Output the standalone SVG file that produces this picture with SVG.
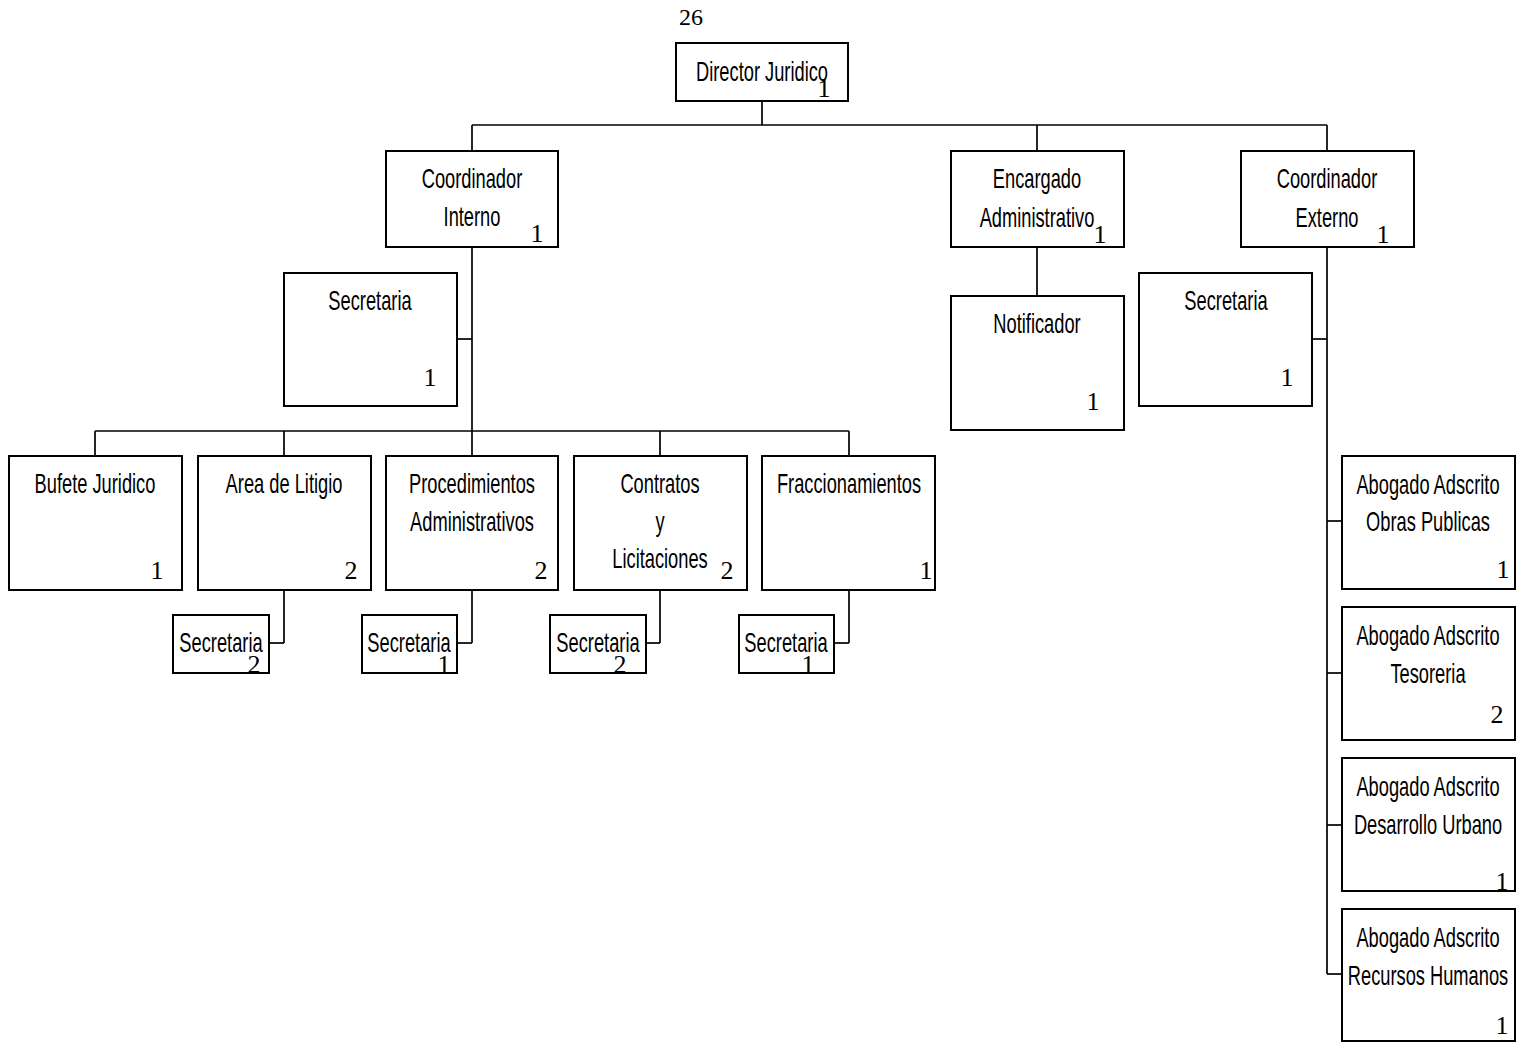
<svg xmlns="http://www.w3.org/2000/svg" width="1525" height="1042" viewBox="0 0 1525 1042">
<style>
rect{fill:#fff;stroke:#000;stroke-width:2}
.c line{stroke:#000;stroke-width:1.7}
.t{font-family:"Liberation Sans",Arial,sans-serif;font-size:28px;text-anchor:middle;fill:#000}
.n{font-family:"Liberation Serif","Times New Roman",serif;font-size:26px;text-anchor:middle;fill:#000}
</style>
<rect x="0" y="0" width="1525" height="1042" style="stroke:none"/>
<text class="n" x="691" y="25" style="font-size:24px">26</text>
<g class="c" id="connectors">
<line x1="762" y1="101" x2="762" y2="125"/>
<line x1="472" y1="125" x2="1327" y2="125"/>
<line x1="472" y1="125" x2="472" y2="151"/>
<line x1="1037" y1="125" x2="1037" y2="151"/>
<line x1="1327" y1="125" x2="1327" y2="151"/>
<line x1="472" y1="247" x2="472" y2="431"/>
<line x1="457" y1="339" x2="472" y2="339"/>
<line x1="95" y1="431" x2="849" y2="431"/>
<line x1="95" y1="431" x2="95" y2="456"/>
<line x1="284" y1="431" x2="284" y2="456"/>
<line x1="472" y1="431" x2="472" y2="456"/>
<line x1="660" y1="431" x2="660" y2="456"/>
<line x1="849" y1="431" x2="849" y2="456"/>
<line x1="284" y1="590" x2="284" y2="643"/>
<line x1="269" y1="643" x2="284" y2="643"/>
<line x1="472" y1="590" x2="472" y2="643"/>
<line x1="457" y1="643" x2="472" y2="643"/>
<line x1="660" y1="590" x2="660" y2="643"/>
<line x1="646" y1="643" x2="660" y2="643"/>
<line x1="849" y1="590" x2="849" y2="643"/>
<line x1="834" y1="643" x2="849" y2="643"/>
<line x1="1037" y1="247" x2="1037" y2="296"/>
<line x1="1327" y1="247" x2="1327" y2="974"/>
<line x1="1312" y1="339" x2="1327" y2="339"/>
<line x1="1327" y1="521" x2="1342" y2="521"/>
<line x1="1327" y1="673" x2="1342" y2="673"/>
<line x1="1327" y1="825" x2="1342" y2="825"/>
<line x1="1327" y1="974" x2="1342" y2="974"/>
</g>
<g id="director"><rect x="676" y="43" width="172" height="58"/>
<text class="t" transform="translate(762,81) scale(0.653,1)">Director Juridico</text>
<text class="n" x="824" y="97">1</text></g>
<g id="coord-interno"><rect x="386" y="151" width="172" height="96"/>
<text class="t" transform="translate(472,188) scale(0.653,1)">Coordinador</text>
<text class="t" transform="translate(472,226) scale(0.653,1)">Interno</text>
<text class="n" x="537" y="242">1</text></g>
<g id="encargado"><rect x="951" y="151" width="173" height="96"/>
<text class="t" transform="translate(1037,188) scale(0.653,1)">Encargado</text>
<text class="t" transform="translate(1037,227) scale(0.653,1)">Administrativo</text>
<text class="n" x="1100" y="243">1</text></g>
<g id="coord-externo"><rect x="1241" y="151" width="173" height="96"/>
<text class="t" transform="translate(1327,188) scale(0.653,1)">Coordinador</text>
<text class="t" transform="translate(1327,227) scale(0.653,1)">Externo</text>
<text class="n" x="1383" y="243">1</text></g>
<g id="secretaria-interno"><rect x="284" y="273" width="173" height="133"/>
<text class="t" transform="translate(370,310) scale(0.653,1)">Secretaria</text>
<text class="n" x="430" y="386">1</text></g>
<g id="notificador"><rect x="951" y="296" width="173" height="134"/>
<text class="t" transform="translate(1037,333) scale(0.653,1)">Notificador</text>
<text class="n" x="1093" y="410">1</text></g>
<g id="secretaria-externo"><rect x="1139" y="273" width="173" height="133"/>
<text class="t" transform="translate(1226,310) scale(0.653,1)">Secretaria</text>
<text class="n" x="1287" y="386">1</text></g>
<g id="bufete"><rect x="9" y="456" width="173" height="134"/>
<text class="t" transform="translate(95,493) scale(0.653,1)">Bufete Juridico</text>
<text class="n" x="157" y="579">1</text></g>
<g id="litigio"><rect x="198" y="456" width="173" height="134"/>
<text class="t" transform="translate(284,493) scale(0.653,1)">Area de Litigio</text>
<text class="n" x="351" y="579">2</text></g>
<g id="procedimientos"><rect x="386" y="456" width="172" height="134"/>
<text class="t" transform="translate(472,493) scale(0.653,1)">Procedimientos</text>
<text class="t" transform="translate(472,531) scale(0.653,1)">Administrativos</text>
<text class="n" x="541" y="579">2</text></g>
<g id="contratos"><rect x="574" y="456" width="173" height="134"/>
<text class="t" transform="translate(660,493) scale(0.653,1)">Contratos</text>
<text class="t" transform="translate(660,531) scale(0.653,1)">y</text>
<text class="t" transform="translate(660,568) scale(0.653,1)">Licitaciones</text>
<text class="n" x="727" y="579">2</text></g>
<g id="fraccionamientos"><rect x="762" y="456" width="173" height="134"/>
<text class="t" transform="translate(849,493) scale(0.653,1)">Fraccionamientos</text>
<text class="n" x="926" y="579">1</text></g>
<g id="sec-litigio"><rect x="173" y="615" width="96" height="58"/>
<text class="t" transform="translate(221,652) scale(0.653,1)">Secretaria</text>
<text class="n" x="254" y="673">2</text></g>
<g id="sec-procedimientos"><rect x="362" y="615" width="95" height="58"/>
<text class="t" transform="translate(409,652) scale(0.653,1)">Secretaria</text>
<text class="n" x="444" y="673">1</text></g>
<g id="sec-contratos"><rect x="550" y="615" width="96" height="58"/>
<text class="t" transform="translate(598,652) scale(0.653,1)">Secretaria</text>
<text class="n" x="620" y="673">2</text></g>
<g id="sec-fraccionamientos"><rect x="739" y="615" width="95" height="58"/>
<text class="t" transform="translate(786,652) scale(0.653,1)">Secretaria</text>
<text class="n" x="808" y="673">1</text></g>
<g id="obras"><rect x="1342" y="456" width="173" height="133"/>
<text class="t" transform="translate(1428,494) scale(0.653,1)">Abogado Adscrito</text>
<text class="t" transform="translate(1428,531) scale(0.653,1)">Obras Publicas</text>
<text class="n" x="1503" y="578">1</text></g>
<g id="tesoreria"><rect x="1342" y="607" width="173" height="133"/>
<text class="t" transform="translate(1428,645) scale(0.653,1)">Abogado Adscrito</text>
<text class="t" transform="translate(1428,683) scale(0.653,1)">Tesoreria</text>
<text class="n" x="1497" y="723">2</text></g>
<g id="desarrollo"><rect x="1342" y="758" width="173" height="133"/>
<text class="t" transform="translate(1428,796) scale(0.653,1)">Abogado Adscrito</text>
<text class="t" transform="translate(1428,834) scale(0.653,1)">Desarrollo Urbano</text>
<text class="n" x="1502" y="890">1</text></g>
<g id="recursos"><rect x="1342" y="909" width="173" height="132"/>
<text class="t" transform="translate(1428,947) scale(0.653,1)">Abogado Adscrito</text>
<text class="t" transform="translate(1428,985) scale(0.653,1)">Recursos Humanos</text>
<text class="n" x="1502" y="1034">1</text></g>
</svg>
